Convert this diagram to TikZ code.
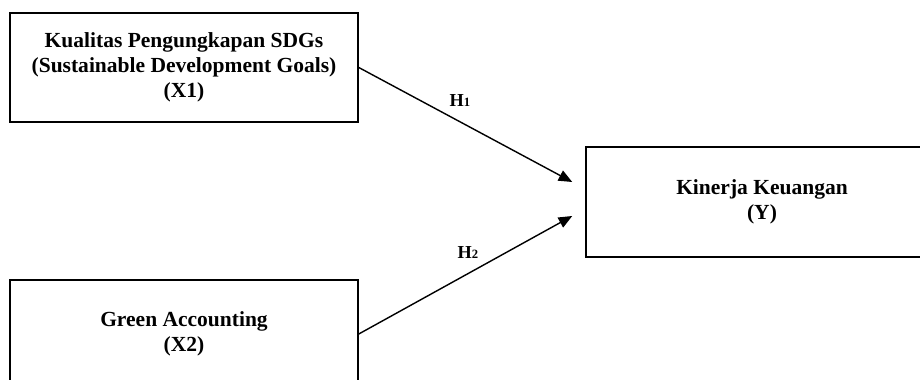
\documentclass[tikz,border=0pt]{standalone}
\usepackage{fontspec}
\setmainfont{Liberation Serif}
\usetikzlibrary{arrows.meta}

\begin{document}
\begin{tikzpicture}[
  varbox/.style={draw=black, line width=1.1pt, align=center, inner sep=0pt,
    font=\bfseries\fontsize{15.3}{17.8}\selectfont},
  hipo/.style={line width=1pt, -{Triangle[length=3.4mm, width=2.8mm]}},
  hlabel/.style={font=\bfseries\fontsize{13}{15}\selectfont, inner sep=0pt}
]

  % Marco fijo del dibujo (las cajas se cortan en el borde)
  \useasboundingbox (0,0) rectangle (23,9.5);
  \clip (-0.2,-0.2) rectangle (23.2,9.7);

  % Variables independientes
  \node[varbox, minimum width=8.7cm, minimum height=2.725cm] (x1) at (4.6, 7.8125)
    {Kualitas Pengungkapan SDGs\\(Sustainable Development Goals)\\(X1)};
  \node[varbox, minimum width=8.7cm, minimum height=2.7cm] (x2) at (4.6, 1.15)
    {Green Accounting\\(X2)};

  % Variable dependiente (la caja sigue fuera del borde derecho)
  \node[varbox, draw=none, minimum width=8.75cm, minimum height=2.7cm] (y) at (19.05, 4.45)
    {Kinerja Keuangan\\(Y)};
  \draw[line width=1.1pt] ([xshift=1cm]y.north east) -- (y.north west)
    -- (y.south west) -- ([xshift=1cm]y.south east);

  % Puntas de las flechas, antes de la caja Y
  \coordinate (h1end) at ([xshift=-0.35cm, yshift=0.5cm]y.west);
  \coordinate (h2end) at ([xshift=-0.35cm, yshift=-0.35cm]y.west);

  % Hipotesis
  \draw[hipo] (x1.east) -- (h1end);
  \draw[hipo] (x2.east) -- (h2end);

  % Etiquetas de las hipotesis
  \node[hlabel] (h1) at (11.5, 6.975) {H{\fontsize{9}{10}\selectfont 1}};
  \node[hlabel] (h2) at (11.7, 3.175) {H{\fontsize{9}{10}\selectfont 2}};

\end{tikzpicture}
\end{document}
